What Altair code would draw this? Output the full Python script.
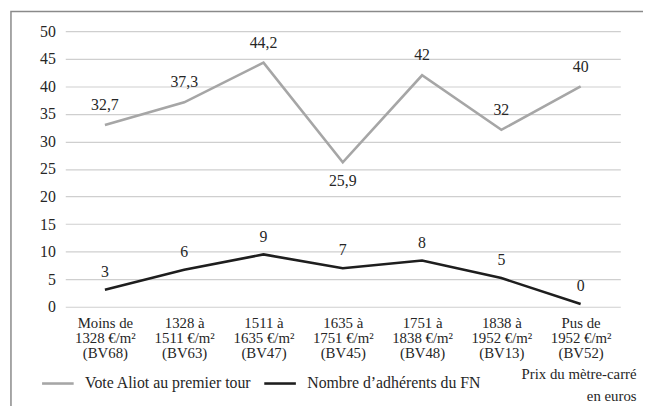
import altair as alt
import pandas as pd

categories = [
    "Moins de|1328 €/m²|(BV68)",
    "1328 à|1511 €/m²|(BV63)",
    "1511 à|1635 €/m²|(BV47)",
    "1635 à|1751 €/m²|(BV45)",
    "1751 à|1838 €/m²|(BV48)",
    "1838 à|1952 €/m²|(BV13)",
    "Pus de|1952 €/m²|(BV52)",
]
vote_values = [33.0, 37.1, 44.3, 26.2, 42.0, 32.1, 40.0]
vote_labels = ["32,7", "37,3", "44,2", "25,9", "42", "32", "40"]
adh_values = [3.1, 6.7, 9.5, 7.0, 8.4, 5.2, 0.5]
adh_labels = ["3", "6", "9", "7", "8", "5", "0"]
series_names = ["Vote Aliot au premier tour", "Nombre d’adhérents du FN"]
series_colors = ["#a6a6a6", "#1e1e1e"]
y_ticks = [0, 5, 10, 15, 20, 25, 30, 35, 40, 45, 50]

FONT = "Liberation Serif, Times New Roman, DejaVu Serif, serif"
TXT = "#262626"
FS = 16

df = pd.concat([
    pd.DataFrame({"cat": categories, "value": vote_values, "label": vote_labels, "series": series_names[0]}),
    pd.DataFrame({"cat": categories, "value": adh_values, "label": adh_labels, "series": series_names[1]}),
], ignore_index=True)

x_enc = alt.X(
    "cat:N", sort=categories,
    axis=alt.Axis(
        title=["Prix du mètre-carré", "en euros"],
        titleAlign="right", titleAnchor="end", titleX=578, titleY=61,
        titleBaseline="top", titleLineHeight=22, titleFont=FONT, titleFontSize=15,
        titleFontWeight="normal", titleColor=TXT,
        labelExpr="split(datum.label, '|')", labelLineHeight=15,
        labelAngle=0, labelFont=FONT, labelFontSize=15, labelColor=TXT,
        labelPadding=9, labelBaseline="top", labelOverlap=False, labelLimit=0,
        ticks=False, domain=False, grid=False,
    ),
)
y_enc = alt.Y(
    "value:Q", scale=alt.Scale(domain=[0, 50], nice=False),
    axis=alt.Axis(
        title=None, values=y_ticks, ticks=False, domain=False,
        labelFont=FONT, labelFontSize=FS, labelColor=TXT, labelPadding=10,
        labelOverlap=False,
        grid=True, gridColor="#cfcfcf", gridWidth=1.2,
    ),
)

base = alt.Chart(df)

lines = base.mark_line(strokeWidth=2.6).encode(
    x=x_enc, y=y_enc,
    color=alt.Color(
        "series:N",
        scale=alt.Scale(domain=series_names, range=series_colors),
        legend=alt.Legend(
            title=None, orient="none", direction="horizontal",
            legendX=-25, legendY=339,
            symbolType="stroke", symbolSize=1024, symbolStrokeWidth=2.6,
            labelFont=FONT, labelFontSize=FS, labelColor=TXT, labelLimit=0,
            labelOffset=10, columnPadding=7,
        ),
    ),
)

text_kw = dict(font=FONT, fontSize=FS, color=TXT)

vote_above = base.transform_filter(
    f"datum.series == '{series_names[0]}' && datum.label != '25,9'"
).mark_text(dy=-20, **text_kw).encode(x=x_enc, y=y_enc, text="label:N")

vote_below = base.transform_filter(
    f"datum.series == '{series_names[0]}' && datum.label == '25,9'"
).mark_text(dy=19, **text_kw).encode(x=x_enc, y=y_enc, text="label:N")

adh_text = base.transform_filter(
    f"datum.series == '{series_names[1]}'"
).mark_text(dy=-18, **text_kw).encode(x=x_enc, y=y_enc, text="label:N")

frame = alt.Chart(pd.DataFrame({"a": [0]})).mark_rect(
    fill="transparent", stroke="#8a8a8a", strokeWidth=1.5
).encode(
    x=alt.value(-55), x2=alt.value(800), y=alt.value(-20), y2=alt.value(600)
)

chart = alt.layer(frame, lines, vote_above, vote_below, adh_text).properties(
    width=562, height=279,
    padding={"left": 58, "top": 21, "right": 23, "bottom": 98},
    autosize=alt.AutoSizeParams(type="none"),
).configure(font=FONT).configure_view(stroke=None)

chart.save("out.html", embed_options={"renderer": "svg", "actions": False})
